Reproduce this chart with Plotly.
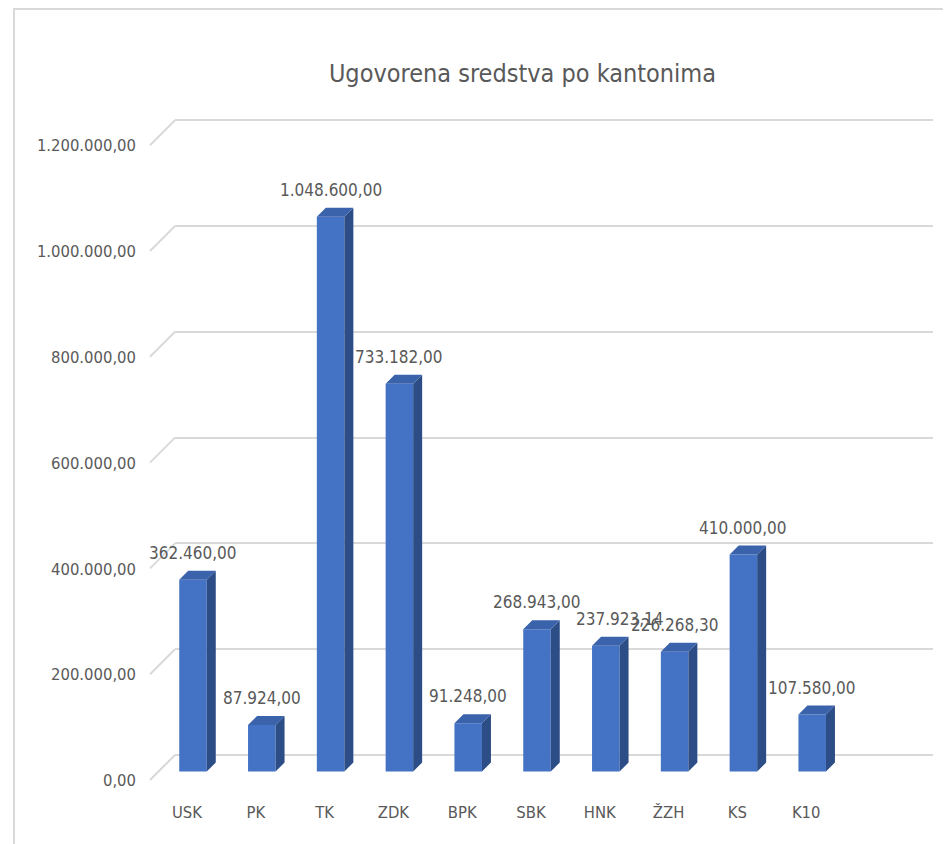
import plotly.graph_objects as go

# data
cantons = ["USK", "PK", "TK", "ZDK", "BPK", "SBK", "HNK", "ŽZH", "KS", "K10"]
amounts = [362460.00, 87924.00, 1048600.00, 733182.00, 91248.00,
           268943.00, 237923.14, 226268.30, 410000.00, 107580.00]
y_ticks = [0, 200000, 400000, 600000, 800000, 1000000, 1200000]
title_text = "Ugovorena sredstva po kantonima"

# page pixels; the html body adds an 8px margin, so work relative to it
OFF = 8
W, H = 951 - OFF, 844 - OFF
PL, PR, PT, PB = 175 - OFF, 933 - OFF, 95 - OFF, 800 - OFF
X0_PX, STEP_PX = 193 - OFF, 68.8     # centre of first bar, spacing
ZERO_PX = 771.5 - OFF                # bar base
K = 529 / 1e6                        # px per unit value
GRID_UP = 16.5                       # back wall offset of grid lines
BAR_W = 0.40
DEPTH_PX = 9

FONT = "DejaVu Sans Condensed, Liberation Sans Narrow, sans-serif"
GRAY = "#595959"
FRONT, SIDE, TOP = "#4472C4", "#2D4D87", "#3A63AC"

xr = [(PL - X0_PX) / STEP_PX, (PR - X0_PX) / STEP_PX]
yr = [-(PB - ZERO_PX) / K, (ZERO_PX - PT) / K]
shift = GRID_UP / K
yr2 = [yr[0] - shift, yr[1] - shift]

dx = DEPTH_PX / STEP_PX
dy = DEPTH_PX / K
idx = list(range(len(cantons)))

fig = go.Figure()

fig.add_trace(go.Bar(
    x=idx, y=amounts, width=BAR_W,
    marker=dict(color=FRONT, line=dict(width=0)),
    hoverinfo="skip",
))

# side and top faces of the 3d columns
sx, sy, tx, ty = [], [], [], []
for i, v in zip(idx, amounts):
    r = i + BAR_W / 2
    l = i - BAR_W / 2
    sx += [r, r + dx, r + dx, r, r, None]
    sy += [0, dy, v + dy, v, 0, None]
    tx += [l, l + dx, r + dx, r, l, None]
    ty += [v, v + dy, v + dy, v, v, None]

fig.add_trace(go.Scatter(x=sx, y=sy, mode="lines", fill="toself",
                         fillcolor=SIDE, line=dict(width=0), hoverinfo="skip"))
fig.add_trace(go.Scatter(x=tx, y=ty, mode="lines", fill="toself",
                         fillcolor=TOP, line=dict(width=0), hoverinfo="skip"))

# invisible trace to activate grid axis
fig.add_trace(go.Scatter(x=[xr[0]], y=[0], yaxis="y2", mode="markers",
                         marker=dict(opacity=0), hoverinfo="skip"))


def fmt(v):
    s = f"{v:,.2f}"
    return s.replace(",", "#").replace(".", ",").replace("#", ".")


label_xshift = {"HNK": 14}
for c, i, v in zip(cantons, idx, amounts):
    fig.add_annotation(x=i, y=v, xref="x", yref="y", text=fmt(v),
                       showarrow=False, yanchor="bottom", yshift=15,
                       xshift=label_xshift.get(c, 0),
                       font=dict(family=FONT, size=17, color=GRAY))

# diagonal part of the 3d grid lines
pw = PR - PL
for t in y_ticks:
    fig.add_shape(type="line", xref="paper", x0=-25 / pw, x1=0,
                  yref="y2", ysizemode="pixel", yanchor=t, y0=-25, y1=0,
                  line=dict(color="#D9D9D9", width=2))

# chart frame
ph = PB - PT
fig.add_shape(type="rect", xref="paper", yref="paper",
              x0=(14 - OFF - PL) / pw, x1=(W + 5 - PL) / pw,
              y0=(PB - (H + 5)) / ph, y1=(PB - (9 - OFF)) / ph,
              line=dict(color="#D9D9D9", width=2), layer="below")

fig.update_layout(
    width=W, height=H,
    margin=dict(l=PL, r=W - PR, t=PT, b=H - PB),
    paper_bgcolor="white", plot_bgcolor="white",
    showlegend=False,
    title=dict(text=title_text, x=(522.5 - OFF) / W, xref="container",
               xanchor="center", y=1 - (73 - OFF) / H, yref="container",
               yanchor="middle",
               font=dict(family=FONT, size=25, color=GRAY)),
    xaxis=dict(range=xr, tickvals=idx, ticktext=cantons, showgrid=False,
               zeroline=False, showline=False, ticks="",
               ticklabelshift=-6, ticklabelstandoff=0,
               tickfont=dict(family=FONT, size=16.5, color=GRAY)),
    yaxis=dict(range=yr, tickvals=y_ticks, tickformat=",.2f",
               showgrid=False, zeroline=False, showline=False, ticks="",
               ticklabelshift=9, ticklabelstandoff=38,
               tickfont=dict(family=FONT, size=16.5, color=GRAY)),
    yaxis2=dict(range=yr2, overlaying="y", tickvals=y_ticks, showticklabels=False,
                showgrid=True, gridcolor="#D9D9D9", gridwidth=2,
                zeroline=False, showline=False),
    separators=",.",
)

fig.write_html("out.html")
